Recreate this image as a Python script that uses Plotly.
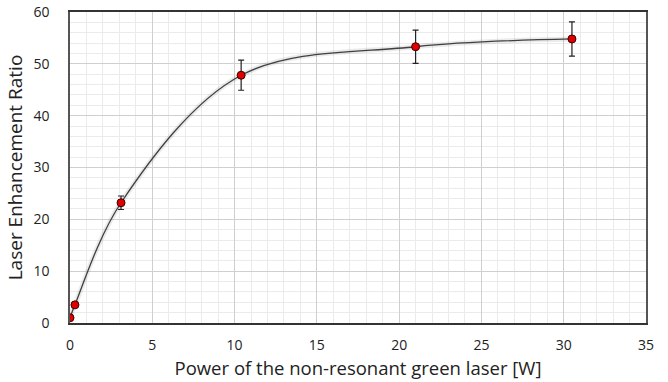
import plotly.graph_objects as go

power = [0.0, 0.3, 3.1, 10.4, 21.0, 30.5]
ratio = [1.0, 3.5, 23.2, 47.8, 53.3, 54.8]
err = [0.0, 0.0, 1.3, 2.9, 3.2, 3.3]

x_title = "Power of the non-resonant green laser [W]"
y_title = "Laser Enhancement Ratio"

font = "Open Sans"

fig = go.Figure()
# soft shadow under the curve
fig.add_trace(go.Scatter(x=power, y=ratio, mode="lines",
                         line=dict(shape="spline", smoothing=1.0, color="rgba(0,0,0,0.08)", width=5),
                         hoverinfo="skip", showlegend=False))
fig.add_trace(go.Scatter(x=power, y=ratio, mode="lines",
                         line=dict(shape="spline", smoothing=1.0, color="#404040", width=1.3),
                         showlegend=False))
fig.add_trace(go.Scatter(x=power, y=ratio, mode="markers",
                         marker=dict(color="#e00000", size=8, line=dict(color="#3a0000", width=1)),
                         error_y=dict(type="data", array=err, visible=True, color="#222222",
                                      thickness=1.2, width=3),
                         showlegend=False))

fig.update_layout(
    width=668, height=382,
    margin=dict(l=70, r=22, t=12, b=59, autoexpand=False),
    paper_bgcolor="white", plot_bgcolor="white",
    font=dict(family=font, color="#222222"),
)
fig.update_xaxes(range=[0, 35], dtick=5, tick0=0, automargin=False,
                 showgrid=True, gridcolor="#cfcfcf", gridwidth=1.3,
                 minor=dict(dtick=1, showgrid=True, gridcolor="#ebebeb", gridwidth=1),
                 showline=True, linecolor="#333333", linewidth=1.5, mirror=True,
                 zeroline=False, ticks="", ticklabelstandoff=8,
                 tickfont=dict(size=14, family=font, color="#222222"),
                 title=dict(text=x_title, font=dict(size=18.5, family=font, color="#222222"), standoff=10))
fig.update_yaxes(range=[0, 60], dtick=10, tick0=0, automargin=False,
                 showgrid=True, gridcolor="#cfcfcf", gridwidth=1.3,
                 minor=dict(dtick=2, showgrid=True, gridcolor="#ebebeb", gridwidth=1),
                 showline=True, linecolor="#555555", linewidth=1.5, mirror=True,
                 zeroline=False, ticks="", ticklabelstandoff=16,
                 tickfont=dict(size=14, family=font, color="#222222"),
                 title=dict(text=y_title, font=dict(size=19, family=font, color="#222222"), standoff=6))

fig.write_html("out.html")
